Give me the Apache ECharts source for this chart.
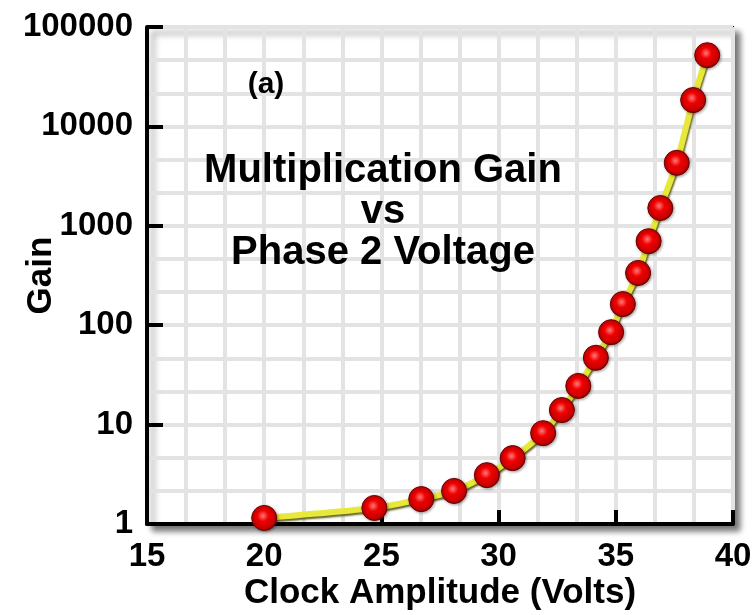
<!DOCTYPE html>
<html>
<head>
<meta charset="utf-8">
<script src="https://cdn.jsdelivr.net/npm/echarts@6/dist/echarts.min.js"></script>
<style>
  html, body { margin: 0; padding: 0; background: #fff; }
  #chart { width: 752px; height: 615px; }
</style>
</head>
<body>
<div id="chart"></div>
<script>
// clock amplitude (volts) and multiplication gain
const volts = [20.0, 24.7, 26.7, 28.1, 29.5, 30.6, 31.9, 32.7, 33.4, 34.15, 34.8, 35.3, 35.95, 36.4, 36.9, 37.6, 38.3, 38.9]
const gain = [1.15, 1.45, 1.78, 2.15, 3.1, 4.6, 8.2, 14, 24.5, 47, 85, 163, 335, 700, 1510, 4300, 18400, 52000]
const xTicks = [15, 20, 25, 30, 35, 40]
const yTicks = [1, 10, 100, 1000, 10000, 100000]

const font = 'Liberation Sans, Arial, sans-serif'
const gridLine = { show: true, lineStyle: { color: '#e3e3e3', width: 4 } }

const chart = echarts.init(document.getElementById('chart'))

chart.setOption({
  animation: false,
  title: [{
    text: 'Multiplication Gain\nvs\nPhase 2 Voltage',
    left: 383,
    top: 150,
    textAlign: 'center',
    padding: 0,
    textStyle: { fontFamily: font, fontWeight: 'bold', fontSize: 40, lineHeight: 41, color: '#000' }
  }, {
    text: '(a)',
    left: 266,
    top: 70,
    textAlign: 'center',
    padding: 0,
    textStyle: { fontFamily: font, fontWeight: 'bold', fontSize: 30, color: '#000' }
  }],
  grid: {
    left: 147,
    right: 19,
    top: 27,
    bottom: 91,
    outerBoundsMode: 'none',
    containLabel: false,
    show: true,
    backgroundColor: '#fff',
    borderColor: '#000',
    borderWidth: 2,
    shadowColor: 'rgba(0,0,0,0.55)',
    shadowBlur: 6,
    shadowOffsetX: 6,
    shadowOffsetY: 6,
    z: 0
  },
  xAxis: [{
    type: 'value',
    min: xTicks[0],
    max: xTicks[xTicks.length - 1],
    interval: 5,
    z: 3,
    name: 'Clock Amplitude (Volts)',
    nameLocation: 'middle',
    nameGap: 52,
    nameMoveOverlap: false,
    nameTextStyle: { fontFamily: font, fontWeight: 'bold', fontSize: 35, color: '#000' },
    axisLine: { lineStyle: { color: '#000', width: 4 } },
    axisTick: { inside: true, length: 14, lineStyle: { color: '#000', width: 4 } },
    axisLabel: { margin: 16, fontFamily: font, fontWeight: 'bold', fontSize: 33, color: '#000' },
    splitLine: { show: false }
  }, {
    // grid only: 3 divisions per 5 volts
    type: 'value',
    min: 0,
    max: 15,
    interval: 1,
    z: 1,
    axisLine: { show: false },
    axisTick: { show: false },
    axisLabel: { show: false },
    splitLine: gridLine
  }],
  yAxis: [{
    type: 'log',
    logBase: 10,
    min: yTicks[0],
    max: yTicks[yTicks.length - 1],
    z: 3,
    name: 'Gain',
    nameLocation: 'middle',
    nameGap: 88,
    nameMoveOverlap: false,
    nameTextStyle: { fontFamily: font, fontWeight: 'bold', fontSize: 35, color: '#000' },
    axisLine: { show: true, lineStyle: { color: '#000', width: 4 } },
    axisTick: { show: true, inside: true, length: 16, lineStyle: { color: '#000', width: 4 } },
    axisLabel: {
      margin: 14,
      fontFamily: font, fontWeight: 'bold', fontSize: 33, color: '#000',
      formatter: v => String(v)
    },
    splitLine: { show: false }
  }, {
    // grid only: 3 divisions per decade
    type: 'value',
    min: 0,
    max: 15,
    interval: 1,
    z: 1,
    axisLine: { show: false },
    axisTick: { show: false },
    axisLabel: { show: false },
    splitLine: gridLine
  }],
  series: [{
    type: 'line',
    xAxisIndex: 0,
    yAxisIndex: 0,
    z: 5,
    data: volts.map((v, i) => [v, gain[i]]),
    smooth: 0.2,
    symbol: 'circle',
    symbolSize: 25,
    lineStyle: {
      color: '#e8e83a',
      width: 6,
      shadowColor: 'rgba(70,70,0,0.85)',
      shadowBlur: 2,
      shadowOffsetX: 1,
      shadowOffsetY: 2
    },
    itemStyle: {
      color: {
        type: 'radial', x: 0.45, y: 0.42, r: 0.6,
        colorStops: [
          { offset: 0, color: '#ff7a7a' },
          { offset: 0.35, color: '#f00000' },
          { offset: 0.8, color: '#c80000' },
          { offset: 1, color: '#7a0000' }
        ]
      },
      borderColor: '#6a0000',
      borderWidth: 1,
      shadowColor: 'rgba(0,0,0,0.35)',
      shadowBlur: 3,
      shadowOffsetX: 1,
      shadowOffsetY: 1
    }
  }]
})
</script>
</body>
</html>
